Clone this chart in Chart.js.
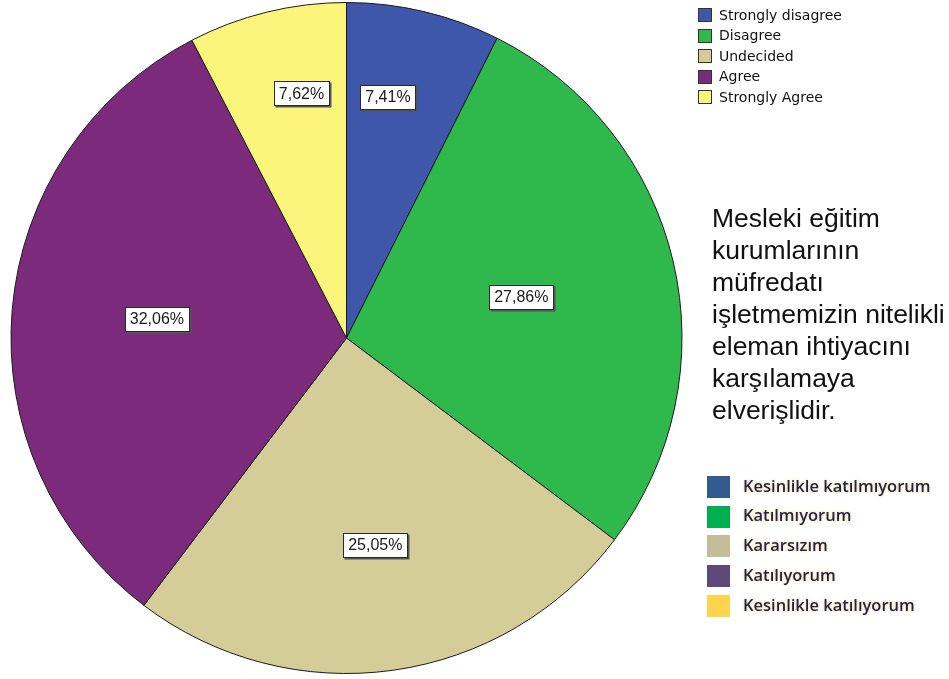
<!DOCTYPE html>
<html>
<head>
<meta charset="utf-8">
<script src="https://cdn.jsdelivr.net/npm/chart.js@4.4.1/dist/chart.umd.min.js"></script>
<style>
  html, body { margin: 0; padding: 0; background: #fff; }
  #wrap { width: 949px; height: 679px; }
</style>
</head>
<body>
<div id="wrap"><canvas id="pie" width="949" height="679"></canvas></div>
<script>
// answers (SPSS labels) and their share in percent
const categories = ["Strongly disagree", "Disagree", "Undecided", "Agree", "Strongly Agree"];
const values = [7.41, 27.86, 25.05, 32.06, 7.62];
const sliceColors = ["#3e57ab", "#2fb84b", "#d4cd98", "#7c2a7b", "#fbf57c"];

// second (Turkish) legend pasted next to the chart
const trLabels = ["Kesinlikle katılmıyorum", "Katılmıyorum", "Kararsızım", "Katılıyorum", "Kesinlikle katılıyorum"];
const trColors = ["#335b8e", "#00b04f", "#c4bd97", "#5f497a", "#ffd54f"];

const questionLines = [
  "Mesleki eğitim",
  "kurumlarının",
  "müfredatı",
  "işletmemizin nitelikli",
  "eleman ihtiyacını",
  "karşılamaya",
  "elverişlidir."
];

const fmtPct = (v) => v.toFixed(2).replace(".", ",") + "%";

// where SPSS put the value boxes: fraction of radius, angle nudge (deg)
const labelPlace = [[0.73, -3.6], [0.535, 0], [0.622, 0], [0.568, 1], [0.742, 3.3]];

const pctLabels = {
  id: "pctLabels",
  afterDatasetsDraw(chart) {
    const ctx = chart.ctx;
    const meta = chart.getDatasetMeta(0);
    ctx.save();
    ctx.font = "16px 'Liberation Sans', Arial, sans-serif";
    ctx.textAlign = "center";
    ctx.textBaseline = "middle";
    meta.data.forEach((arc, i) => {
      const { x, y, startAngle, endAngle, outerRadius } = arc.getProps(["x", "y", "startAngle", "endAngle", "outerRadius"], true);
      const [f, nudge] = labelPlace[i];
      const a = (startAngle + endAngle) / 2 + nudge * Math.PI / 180;
      const cx = x + Math.cos(a) * outerRadius * f;
      const cy = y + Math.sin(a) * outerRadius * f;
      const txt = fmtPct(values[i]);
      const w = Math.round(ctx.measureText(txt).width + 10);
      const h = 24;
      const bx = Math.round(cx - w / 2) + 0.5, by = Math.round(cy - h / 2) + 0.5;
      ctx.fillStyle = "#555";
      ctx.fillRect(bx + 1, by + 1, w + 1, h + 1);
      ctx.fillStyle = "#fff";
      ctx.fillRect(bx, by, w, h);
      ctx.strokeStyle = "#2a2a2a";
      ctx.lineWidth = 1;
      ctx.strokeRect(bx, by, w, h);
      ctx.fillStyle = "#1a1a1a";
      ctx.fillText(txt, cx, cy + 1);
    });
    ctx.restore();
  }
};

const sideStuff = {
  id: "sideStuff",
  afterDraw(chart) {
    const ctx = chart.ctx;
    ctx.save();
    // SPSS legend, top right
    ctx.font = "14px 'DejaVu Sans', sans-serif";
    ctx.textBaseline = "middle";
    ctx.textAlign = "left";
    categories.forEach((c, i) => {
      const cy = 15 + i * 20.5;
      ctx.fillStyle = sliceColors[i];
      ctx.fillRect(698.5, Math.round(cy - 7) + 0.5, 13, 13);
      ctx.strokeStyle = "#333";
      ctx.lineWidth = 1;
      ctx.strokeRect(698.5, Math.round(cy - 7) + 0.5, 13, 13);
      ctx.fillStyle = "#111";
      ctx.fillText(c, 719, cy + 1);
    });

    // question text
    ctx.font = "26.5px 'Liberation Sans', Arial, sans-serif";
    ctx.fillStyle = "#111";
    ctx.textBaseline = "alphabetic";
    questionLines.forEach((line, i) => {
      ctx.fillText(line, 712, 227 + i * 32);
    });

    // Turkish legend, bottom right
    ctx.font = "600 16.5px 'Open Sans', sans-serif";
    ctx.textBaseline = "middle";
    trLabels.forEach((t, i) => {
      const cy = 487 + i * 29.7;
      ctx.fillStyle = trColors[i];
      ctx.fillRect(707, Math.round(cy - 11), 23, 22);
      ctx.save();
      ctx.shadowColor = "rgba(255, 200, 90, 0.8)";
      ctx.shadowBlur = 3;
      ctx.fillStyle = "#1c2550";
      ctx.fillText(t, 743, cy);
      ctx.restore();
    });
    ctx.restore();
  }
};

new Chart(document.getElementById("pie"), {
  type: "pie",
  data: {
    labels: categories,
    datasets: [{
      data: values,
      backgroundColor: sliceColors,
      borderColor: "#1b1b1b",
      borderWidth: 1
    }]
  },
  options: {
    responsive: false,
    animation: false,
    layout: { padding: { left: 10, top: 2, right: 266, bottom: 5 } },
    plugins: {
      legend: { display: false },
      tooltip: { enabled: false }
    }
  },
  plugins: [pctLabels, sideStuff]
});
</script>
</body>
</html>
